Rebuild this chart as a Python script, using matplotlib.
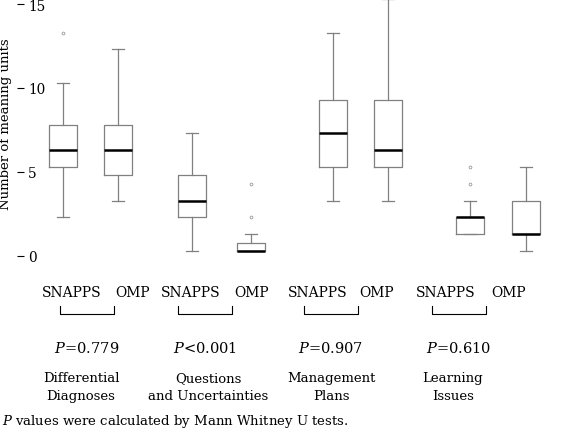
import matplotlib
matplotlib.use("Agg")
import matplotlib.pyplot as plt
import matplotlib.transforms as mtransforms

# data
categories = ["Differential\nDiagnoses", "Questions\nand Uncertainties",
              "Management\nPlans", "Learning\nIssues"]
groups = ["SNAPPS", "OMP"]
p_texts = ["=0.779", "<0.001", "=0.907", "=0.610"]

whislo = [2, 3, 0, 0, 3, 3, 1, 0]
q1 = [5, 4.5, 2, 0, 5, 5, 1, 1]
med = [6, 6, 3, 0, 7, 6, 2, 1]
q3 = [7.5, 7.5, 4.5, 0.5, 9, 9, 2, 3]
whishi = [10, 12, 7, 1, 13, 15, 3, 5]
fliers = [[13], [], [], [2, 4], [], [], [4, 5], []]

# layout (x in pixel-like units of the axes)
box_pos = [63, 118, 192, 251, 333, 388, 470, 526]
label_pos = [72, 133, 191, 252, 318, 377, 446, 509]
bracket_c = [87, 205, 331, 459]
cat_x = [81, 208, 331, 453]

plt.rcParams['font.family'] = ['DejaVu Serif']
plt.rcParams['mathtext.fontset'] = 'dejavuserif'

W, H = 567, 435
fig = plt.figure(figsize=(W / 100, H / 100), dpi=100)
rect = [17 / W, 1 - 258.7 / H, 550 / W, 258.7 / H]
ax = fig.add_axes(rect)
ax.set_xlim(17, 567)
ax.set_ylim(-0.4, 15.0)

# y ticks sit a few pixels below the data scale in the reference
axt = fig.add_axes([rect[0], rect[1] - 5 / H, rect[2], rect[3]], facecolor='none')
axt.set_xlim(17, 567)
axt.set_ylim(-0.4, 15.0)

stats = []
for i in range(len(med)):
    stats.append(dict(med=med[i], q1=q1[i], q3=q3[i], whislo=whislo[i],
                      whishi=whishi[i], fliers=fliers[i]))

gray = '#808080'
art = ax.bxp(stats, positions=box_pos, widths=28, capwidths=12, manage_ticks=False,
             boxprops=dict(color=gray, lw=0.9),
             whiskerprops=dict(color=gray, lw=0.9),
             capprops=dict(color=gray, lw=0.9),
             medianprops=dict(color='black', lw=1.8),
             flierprops=dict(marker='o', markersize=2.0, markerfacecolor='none',
                             markeredgecolor='#999999', markeredgewidth=0.6))
for k in art.values():
    for a in k:
        a.set_clip_on(False)

for a in (ax, axt):
    for s in a.spines.values():
        s.set_visible(False)
    a.set_xticks([])
ax.set_yticks([])
axt.set_yticks([0, 5, 10, 15])
axt.tick_params(axis='y', direction='in', length=5, width=0.8, color='black',
                pad=-8, labelsize=9.8)
for lbl in axt.get_yticklabels():
    lbl.set_horizontalalignment('left')

fig.text(6 / W, 1 - 124 / H, "Number of meaning units", rotation=90,
         ha='center', va='center', fontsize=9.5)

tr = mtransforms.blended_transform_factory(ax.transData, fig.transFigure)
fy = lambda px: 1 - px / H

for i, x in enumerate(label_pos):
    ax.text(x, fy(293), groups[i % 2], transform=tr, ha='center', va='center',
            fontsize=10, clip_on=False)

for i, c in enumerate(bracket_c):
    ax.plot([c - 27, c - 27, c + 27, c + 27], [fy(307), fy(315), fy(315), fy(307)],
            transform=tr, color='black', lw=0.8, clip_on=False)
    ax.text(c, fy(349), "$P$" + p_texts[i], transform=tr, ha='center', va='center',
            fontsize=10.5, clip_on=False)

for i, c in enumerate(cat_x):
    ax.text(c, fy(387.5), categories[i], transform=tr, ha='center', va='center',
            fontsize=9.5, linespacing=1.5, clip_on=False)

fig.text(2 / W, fy(422), "$P$ values were calculated by Mann Whitney U tests.",
         ha='left', va='center', fontsize=9.5)

fig.savefig("out.png", dpi=100)
